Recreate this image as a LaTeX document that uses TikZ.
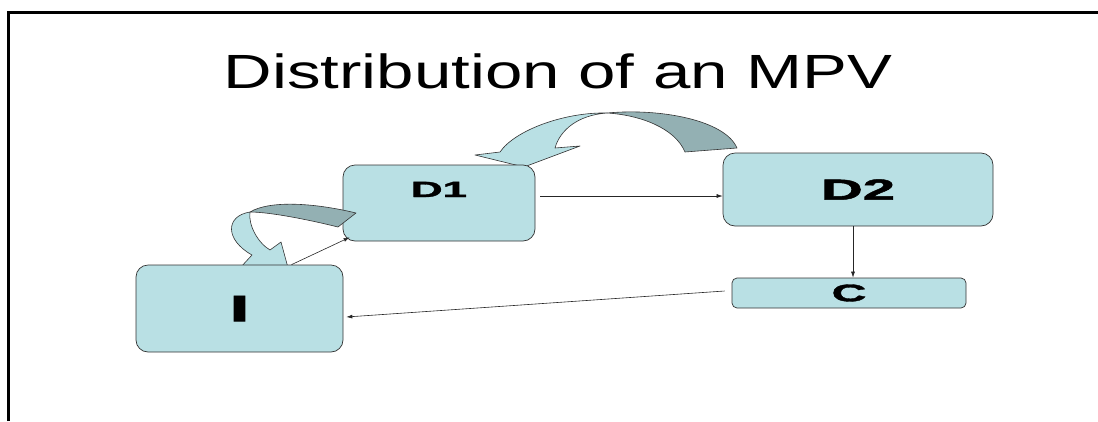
\documentclass[tikz,border=0pt]{standalone}
\usepackage{fontspec}
\setmainfont{Liberation Sans}[BoldFeatures={FakeBold=1.5}]
\usepackage{tikz}
\usetikzlibrary{calc,arrows.meta}
\usepackage{tkz-euclide}

\definecolor{boxfill}{RGB}{185,224,228}
\definecolor{bandback}{RGB}{147,176,179}

\begin{document}
\begin{tikzpicture}[x=1pt,y=-1pt,
    box/.style={draw=black!80,line width=0.7pt,fill=boxfill,rounded corners=12pt,inner sep=0pt,font=\bfseries},
    link/.style={draw=black!85,line width=0.6pt,-{Latex[length=6pt,width=4pt]}},
    band/.style={draw=black!80,line width=0.6pt,line join=round}]
        \useasboundingbox (0,0) rectangle (1098,421);
        
        % frame and title
        \draw[line width=3pt] (8.5,421) -- (8.5,12.5) -- (1098,12.5);
        \node[anchor=base] (title) at (558,88) {\scalebox{1.4}[1]{\fontsize{48}{48}\selectfont Distribution of an MPV}};
        
        % curved arrow from D2 back to D1
        \tkzDefPoints{607/113/T,737/148/Ta,685/152/Tb,500/152/Ho,475/155/Hl,524/167/Ht,580/146/Hr,555/148/Hi}
        \draw[band,fill=boxfill] (T) .. controls (565,112) and (515,130) .. (Ho) -- (Hl) -- (Ht) -- (Hr) -- (Hi)
            .. controls (560,130) and (578,115) .. (T) -- cycle;
        \draw[band,fill=bandback] (T) .. controls (660,108) and (725,120) .. (Ta) -- (Tb)
            .. controls (675,128) and (640,115) .. (T) -- cycle;
        
        % upper boxes
        \node[box,minimum width=192,minimum height=76,text height=16pt,text depth=28pt] (D1) at (439,203)
            {\scalebox{2}[1]{\fontsize{22}{22}\selectfont D1}};
        \node[box,minimum width=270,minimum height=73] (D2) at (858,189.5)
            {\scalebox{2}[1]{\fontsize{29}{29}\selectfont D2}};
        
        % curved arrow from D1 down to I
        \tkzDefPoints{250/212/S,356/213/Sa,338/227/Sb,252/255/Go,240/268/Gl,290/275/Gt,281/242/Gr,270/250/Gi}
        \draw[band,fill=bandback] (Sa) .. controls (315,203) and (270,200) .. (S)
            .. controls (270,212) and (310,220) .. (Sb) -- cycle;
        \draw[band,fill=boxfill] (S) .. controls (225,216) and (225,240) .. (Go) -- (Gl) -- (Gt) -- (Gr) -- (Gi)
            .. controls (258,243) and (248,225) .. (S) -- cycle;
        
        % lower boxes
        \node[box,minimum width=234,minimum height=30,rounded corners=5pt] (C) at (849,293)
            {\scalebox{2}[1]{\fontsize{24}{24}\selectfont C}};
        \node[box,minimum width=207,minimum height=87] (I) at (239.5,308.5)
            {\scalebox{2}[1]{\fontsize{37}{37}\selectfont I}};
        
        % links
        \coordinate (d1out) at ([xshift=5pt,yshift=7pt]D1.east);
        \draw[link] (d1out) -- (d1out -| D2.west);
        \draw[link] ([xshift=-5pt]D2.south) -- ([xshift=-5pt]D2.south |- C.north);
        \draw[link] ([xshift=-7pt,yshift=2pt]C.west) -- ([xshift=3pt,yshift=-8.5pt]I.east);
        \draw[link] ([xshift=52pt]I.north) -- ([xshift=7pt,yshift=4pt]D1.south west);
    \end{tikzpicture}
\end{document}
